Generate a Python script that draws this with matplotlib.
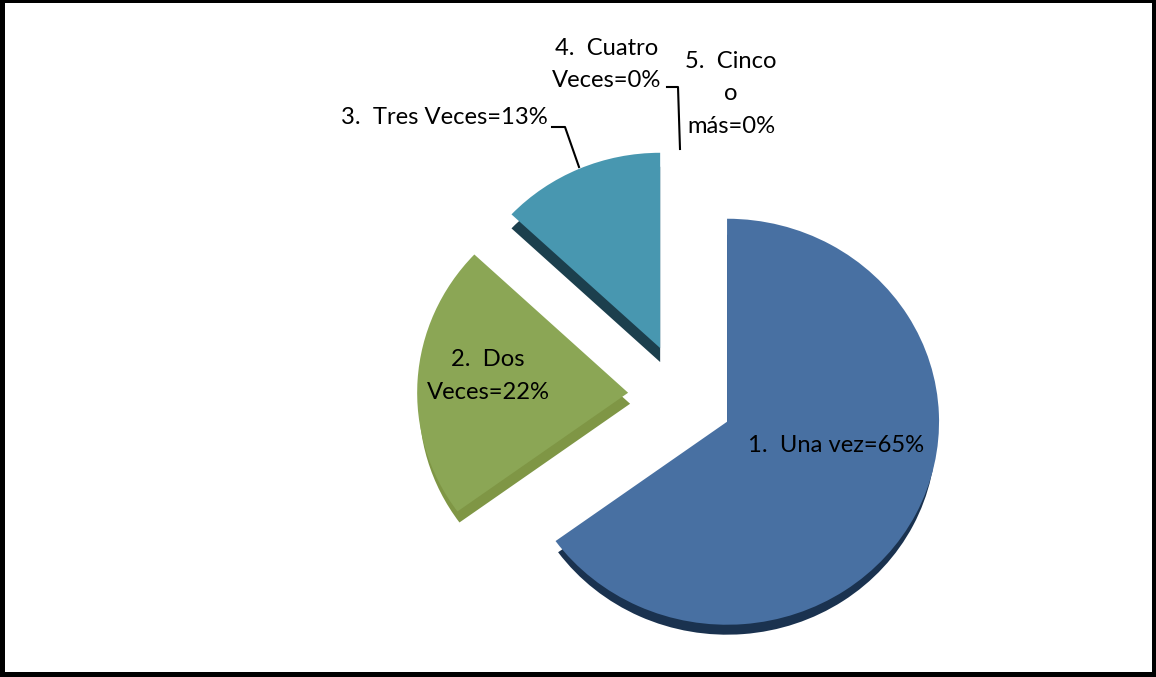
import matplotlib
matplotlib.use("Agg")
import matplotlib.pyplot as plt
from matplotlib.patches import Rectangle

W, H = 1156, 677
categories = ["1.  Una vez", "2.  Dos Veces", "3.  Tres Veces", "4.  Cuatro Veces", "5.  Cinco o más"]
values = [65, 22, 13, 0, 0]
colors = ["#4870a2", "#8ba655", "#4897b0", "#7f6a9f", "#d98a3d"]
side_colors = ["#1a324f", "#7f9645", "#1c3f4d", "#4a3a60", "#8a5a20"]
explode_px = [50, 54, 55, 0, 0]

RX = 212.0
RY = 203.0
CX, CY = 682.0, 398.0

# per-slice perspective correction, in pixels and radius fractions
radius_scale = [1.0, 0.995, 0.962, 1.0, 1.0]
nudge_x = [0.5, 0.0, 0.0, 0.0, 0.0]
nudge_y = [2.0, -2.0, -1.6, 0.0, 0.0]
side_scale = [0.985, 1.0, 1.0, 1.0, 1.0]
side_dx = [0.0, 2.0, 0.0, 0.0, 0.0]
side_dy = [13.0, 11.0, 14.0, 0.0, 0.0]

plt.rcParams["font.family"] = ["Lato", "DejaVu Sans"]
fig = plt.figure(figsize=(W / 100, H / 100), dpi=100, facecolor="black")
ax = fig.add_axes([0, 0, 1, 1])

explode = [e / RX for e in explode_px]
xlim = (-CX / RX, (W - CX) / RX)
ylim = ((CY - H) / RY, CY / RY)

side, _ = ax.pie(values, explode=explode, colors=side_colors, startangle=90, counterclock=False,
                 radius=1.0, center=(0, 0), wedgeprops={"linewidth": 0})
top, _ = ax.pie(values, explode=explode, colors=colors, startangle=90, counterclock=False,
                radius=1.0, center=(0, 0), wedgeprops={"linewidth": 0})
for w, rs, nx, ny in zip(top, radius_scale, nudge_x, nudge_y):
    w.set_radius(w.r * rs)
    w.set_center((w.center[0] + nx / RX, w.center[1] - ny / RY))
for w, rs, ss, nx, ny, dx, dy in zip(side, radius_scale, side_scale, nudge_x, nudge_y, side_dx, side_dy):
    w.set_radius(w.r * rs * ss)
    w.set_center((w.center[0] + (nx + dx) / RX, w.center[1] - (ny + dy) / RY))
ax.set_aspect("auto")
ax.set_xlim(*xlim)
ax.set_ylim(*ylim)
ax.axis("off")

fig.patches.append(Rectangle((5 / W, 1 - 672 / H), (1152 - 5) / W, (672 - 3) / H,
                             transform=fig.transFigure, facecolor="white", edgecolor="none", zorder=-1))

FS = 17.1


def label(text, x, y):
    fig.text(x / W, 1 - y / H, text, ha="center", va="center", fontsize=FS, color="black",
             linespacing=1.68)


label(f"{categories[0]}={values[0]}%", 836, 445)
label(f"2.  Dos\nVeces={values[1]}%", 488, 376)
label(f"{categories[2]}={values[2]}%", 444, 118)
label(f"4.  Cuatro\nVeces={values[3]}%", 607, 64.5)
label(f"5.  Cinco\no\nmás={values[4]}%", 731, 94)


def leader(xs, ys):
    fig.add_artist(plt.Line2D([x / W for x in xs], [1 - y / H for y in ys],
                              transform=fig.transFigure, color="black", lw=1.5))


leader([552, 565, 579], [127, 127, 167])
leader([667, 678, 680], [87, 87, 149])

fig.savefig("out.png", dpi=100, facecolor="black")
